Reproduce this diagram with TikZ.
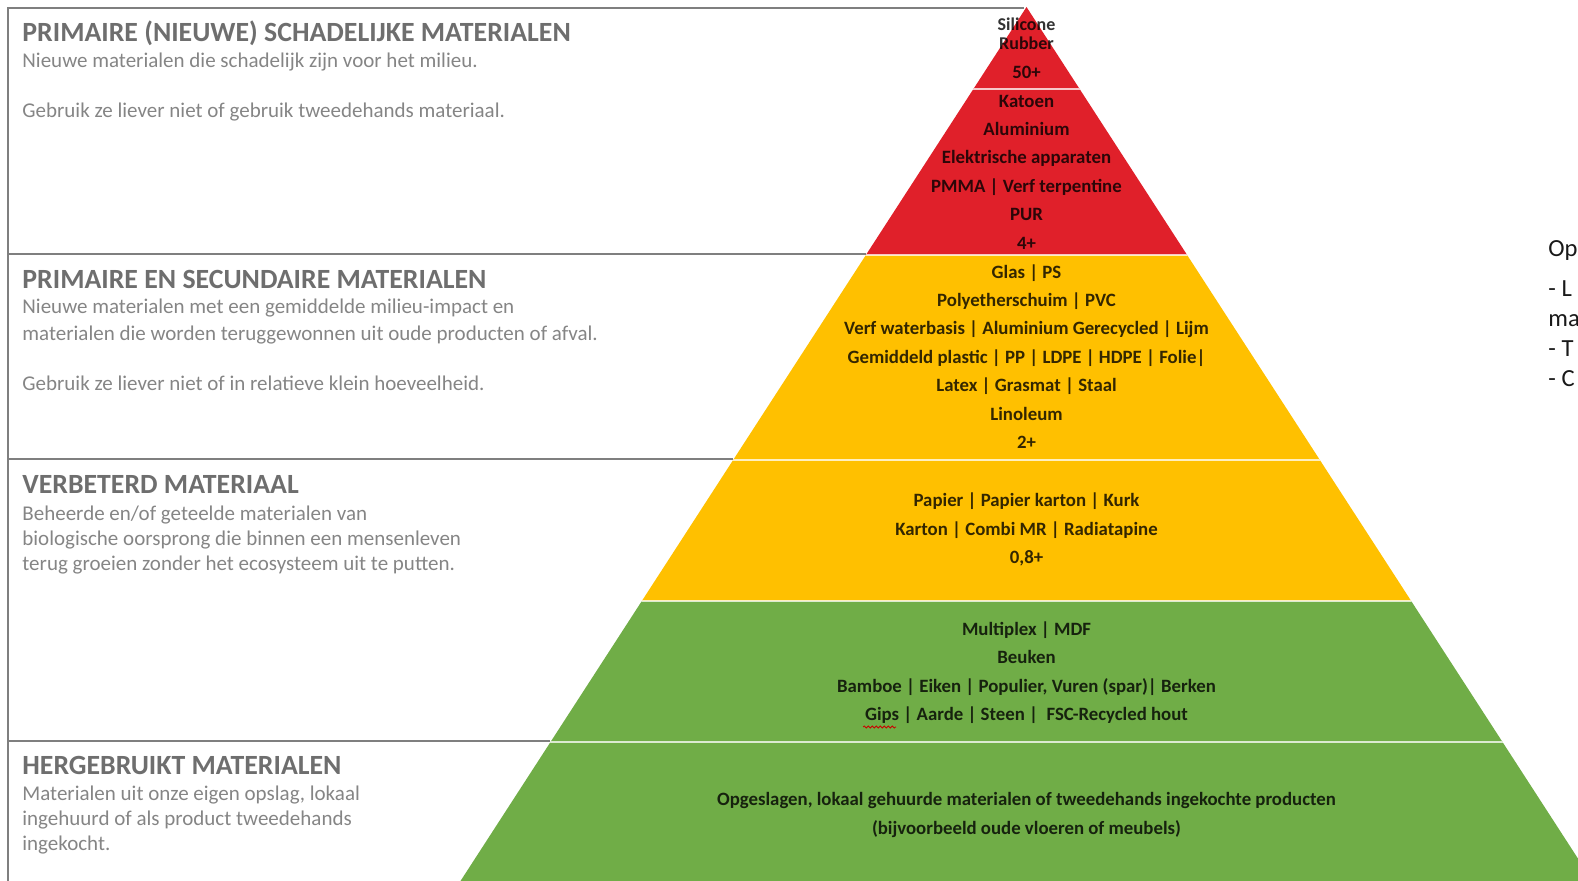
\documentclass[tikz,border=0pt]{standalone}
\usepackage{fontspec}
\setmainfont{Carlito}
\usepackage{tikz}
\usepackage{xcolor}
\tikzset{>=latex}
\usetikzlibrary{positioning,decorations.pathmorphing}

\definecolor{pyrred}{HTML}{E0202A}
\definecolor{pyryellow}{HTML}{FFC000}
\definecolor{pyrgreen}{HTML}{70AD47}
\definecolor{framegray}{HTML}{7F7F7F}
\definecolor{headgray}{HTML}{6E6E6E}
\definecolor{bodygray}{HTML}{858585}

\tikzset{
  frameline/.style={draw=framegray, line width=0.8pt},
  bandsep/.style={white, opacity=0.75, line width=1.2pt},
  head/.style={anchor=base west, inner sep=0pt, text=headgray,
    font=\fontsize{13.9}{15}\selectfont\bfseries},
  body/.style={anchor=north west, inner sep=0pt, text=bodygray, align=left,
    font=\fontsize{10.5}{12.5}\selectfont},
  stock/.style={inner sep=0pt, align=center, text=black, text opacity=0.8,
    font=\fontsize{9.4}{14.2}\selectfont\bfseries},
}

\begin{document}
\begin{tikzpicture}[x=0.5pt, y=-0.5pt]
      \useasboundingbox (0,0) rectangle (1578,881);
      \clip (0,0) rectangle (1578,881);
      % pyramid
      \coordinate (top) at (1026.5,7);
      \coordinate (baseL) at (460.5,881);
      \coordinate (baseR) at (1592.5,881);
      \begin{scope}
        \clip (top) -- (baseL) -- (baseR) -- cycle;
        \fill[pyrred] (0,0) rectangle (1578,255);
        \fill[pyryellow] (0,255) rectangle (1578,601);
        \fill[pyrgreen] (0,601) rectangle (1578,881);
        \foreach \y in {89,255,460,601,742}
          \draw[bandsep] (0,\y) -- (1578,\y);
      \end{scope}
      % frame on the left
      \draw[frameline] (1024,8) -- (8,8) -- (8,881);
      \draw[frameline] (8,254) -- (866,254);
      \draw[frameline] (8,459) -- (733,459);
      \draw[frameline] (8,741) -- (550,741);
      % categories
      \node[head] (h1) at (22,41.5) {PRIMAIRE (NIEUWE) SCHADELIJKE MATERIALEN};
      \node[body] (b1) at (22,53) {Nieuwe materialen die schadelijk zijn voor het milieu.\\[12.5pt]
        Gebruik ze liever niet of gebruik tweedehands materiaal.};
      \node[head] (h2) at (22,288.5) {PRIMAIRE EN SECUNDAIRE MATERIALEN};
      \node[body] (b2) at (22,298.5) {Nieuwe materialen met een gemiddelde milieu-impact en\\[1pt]
        materialen die worden teruggewonnen uit oude producten of afval.\\[12.5pt]
        Gebruik ze liever niet of in relatieve klein hoeveelheid.};
      \node[head] (h3) at (22,494) {VERBETERD MATERIAAL};
      \node[body] (b3) at (22,505.5) {Beheerde en/of geteelde materialen van\\
        biologische oorsprong die binnen een mensenleven\\
        terug groeien zonder het ecosysteem uit te putten.};
      \node[head] (h4) at (22,774) {HERGEBRUIKT MATERIALEN};
      \node[body] (b4) at (22,786) {Materialen uit onze eigen opslag, lokaal\\
        ingehuurd of als product tweedehands\\ingekocht.};
      % materials
      \node[stock, font=\fontsize{9}{9.6}\selectfont\bfseries] (silicone) at (1026.5,34) {Silicone\\Rubber};
      \node[stock] (f50) at (1026.5,72.5) {50+};
      \node[stock] (redlist) at (1026.5,172) {Katoen\\Aluminium\\Elektrische apparaten\\
        PMMA | Verf terpentine\\PUR\\4+};
      \node[stock] (yellowlist) at (1026.5,356.5) {Glas | PS\\Polyetherschuim | PVC\\
        Verf waterbasis | Aluminium Gerecycled | Lijm\\
        Gemiddeld plastic | PP | LDPE | HDPE | Folie|\\Latex | Grasmat | Staal\\Linoleum\\2+};
      \node[stock] (paperlist) at (1026.5,529.5) {Papier | Papier karton | Kurk\\
        Karton | Combi MR | Radiatapine\\0,8+};
      \node[stock] (woodlist) at (1026.5,672.5) {Multiplex | MDF\\Beuken\\
        Bamboe | Eiken | Populier, Vuren (spar)| Berken\\
        Gips | Aarde | Steen | \ FSC-Recycled hout};
      \node[stock, font=\fontsize{9.4}{14.5}\selectfont\bfseries] (reuselist) at (1026.5,815)
        {Opgeslagen, lokaal gehuurde materialen of tweedehands ingekochte producten\\
        (bijvoorbeeld oude vloeren of meubels)};
      % spelling mark under Gips
      \draw[red!80!black, line width=0.4pt, decorate,
        decoration={snake, amplitude=0.5pt, segment length=2pt}] (863,727) -- (896,727);
      % note on the right, cut off by the page
      \node[anchor=north west, inner sep=0pt, align=left, text=black!90,
        font=\fontsize{12.3}{15}\selectfont] (note) at (1548,240) {Op\\[5pt]- L\\ma\\- T\\- C};
    \end{tikzpicture}
\end{document}
